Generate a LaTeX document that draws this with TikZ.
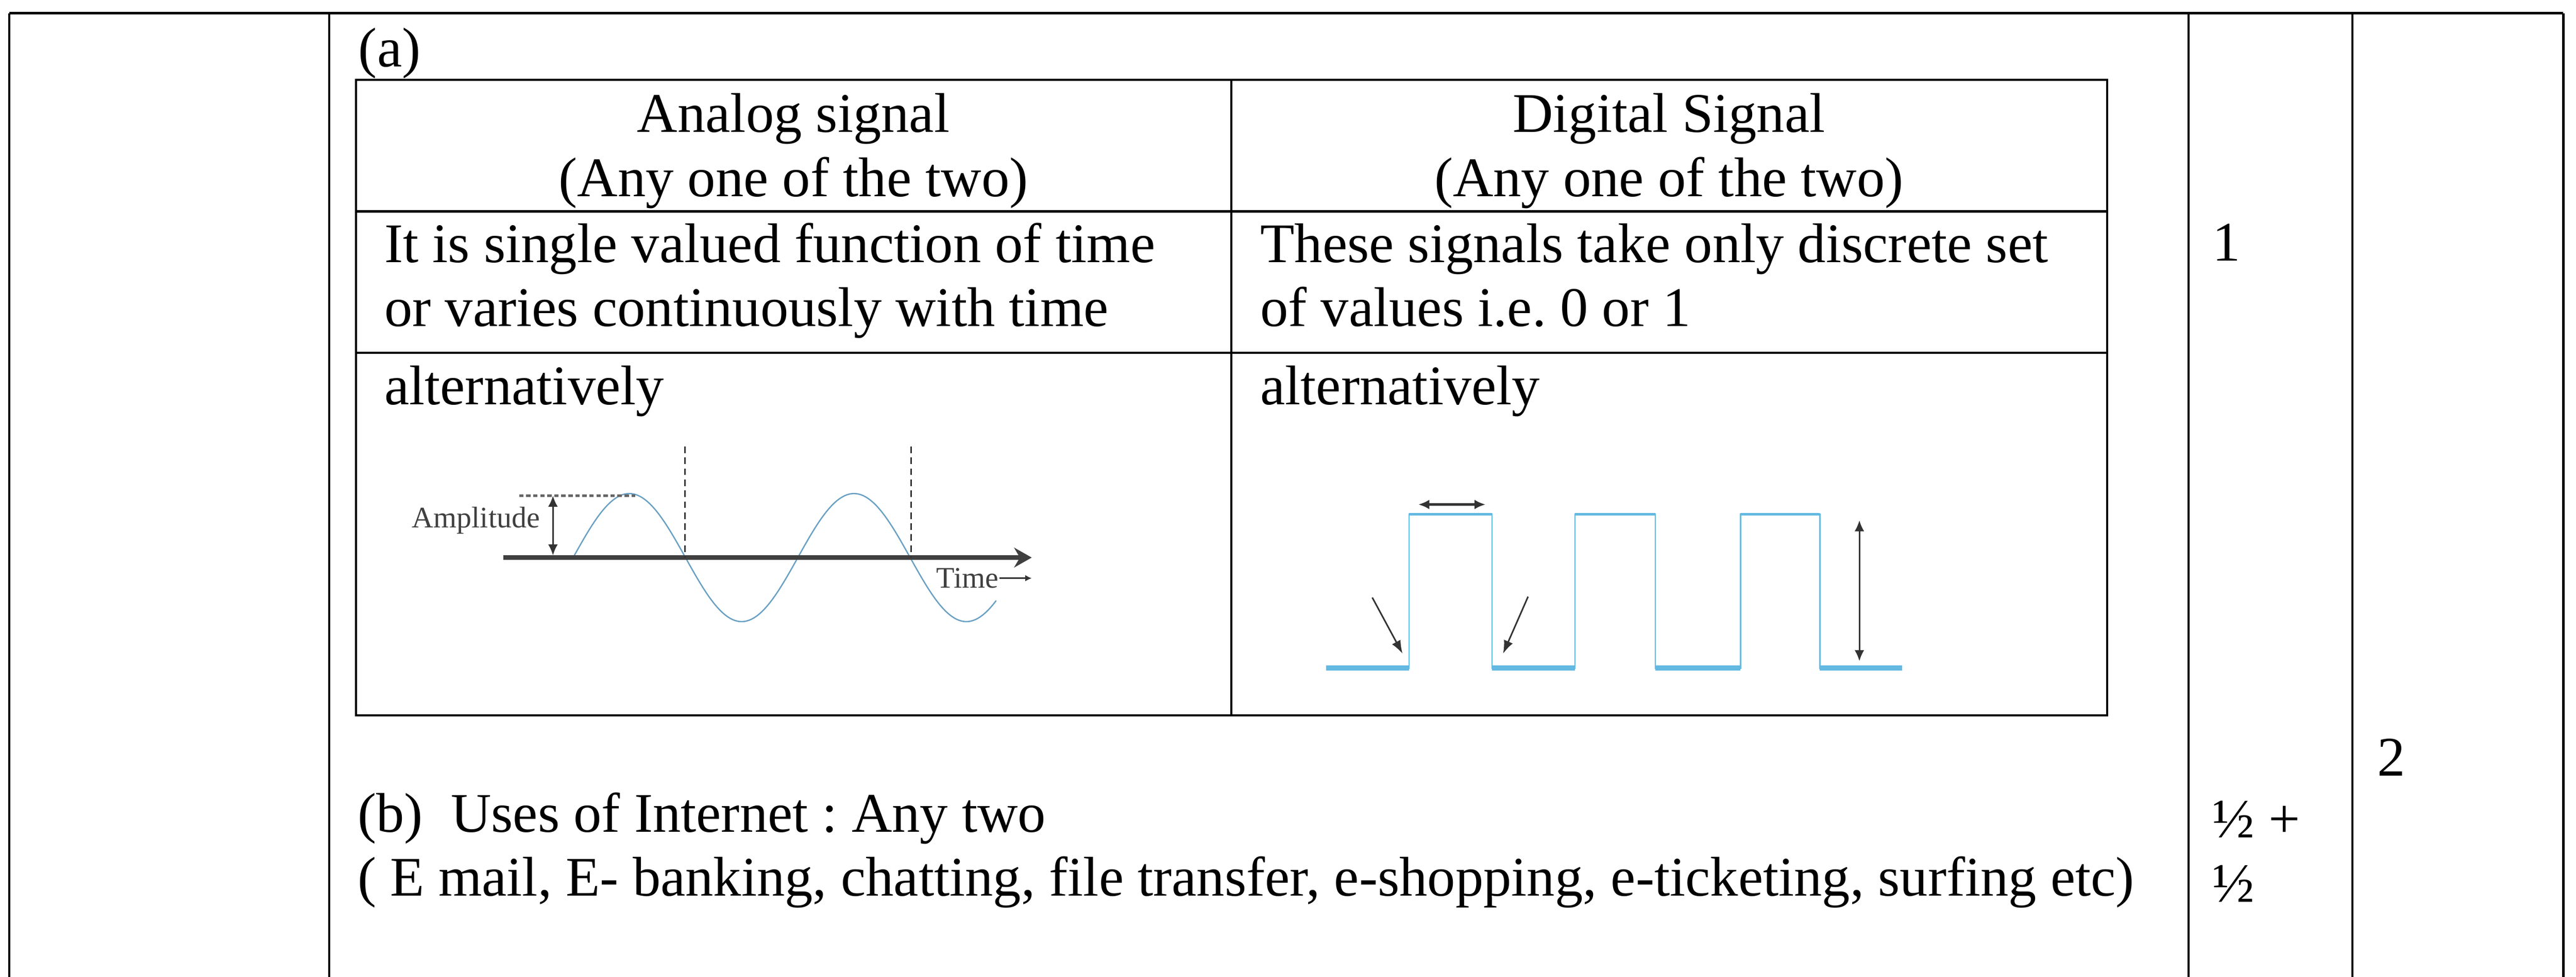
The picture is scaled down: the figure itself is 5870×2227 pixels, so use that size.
\documentclass[tikz,border=0pt]{standalone}
\usepackage{fontspec}
\setmainfont{Liberation Serif}
\usetikzlibrary{arrows.meta}
\frenchspacing

\definecolor{sineblue}{RGB}{105,160,195}
\definecolor{sqblue}{RGB}{100,185,225}

\tikzset{
  txt/.style={anchor=base west, inner sep=0pt, font=\fontsize{12.75}{14.6}\selectfont},
  head/.style={txt, anchor=base},
  small/.style={inner sep=0pt, font=\fontsize{6.8}{7}\selectfont, text=black!75},
  rule/.style={line width=0.5pt},
  sinewave/.style={line width=0.3pt, color=sineblue},
  sqwave/.style={line width=0.3pt, color=sqblue},
  pointer/.style={line width=0.35pt, color=black!80, -{Latex[length=3pt,width=2.2pt]}},
  twoway/.style={line width=0.35pt, color=black!80, {Latex[length=2.5pt,width=2.2pt]}-{Latex[length=2.5pt,width=2.2pt]}},
}

\begin{document}
\begin{tikzpicture}[x=0.1pt, y=-0.1pt]
    \useasboundingbox (0,0) rectangle (5870,2227);

    % outer frame
    \begin{scope}[rule]
    \draw [line width=0.6pt] (21,30) -- (5841,30);
    \foreach \xx in {21,750,4987,5360,5841}
        \draw (\xx,30) -- (\xx,2227);
    \end{scope}

    % inner table
    \begin{scope}[rule]
    \draw (811,182) rectangle (4802,1631);
    \draw (2806,182) -- (2806,1631);
    \draw (811,482) -- (4802,482);
    \draw (811,804) -- (4802,804);
    \end{scope}

    \node [txt] (parta) at (815,152) {(a)};
    \node [head] (anahead) at (1808,301) {Analog signal};
    \node [head] (anaany) at (1808,448) {(Any one of the two)};
    \node [head] (dighead) at (3803,301) {Digital Signal};
    \node [head] (digany) at (3803,448) {(Any one of the two)};

    \node [txt] (anadefa) at (874,598) {It is single valued function of time};
    \node [txt] (anadefb) at (874,744) {or varies continuously with time};
    \node [txt] (digdefa) at (2870,598) {These signals take only discrete set};
    \node [txt] (digdefb) at (2870,744) {of values i.e. 0 or 1};
    \node [txt] (anaalt) at (874,922) {alternatively};
    \node [txt] (digalt) at (2870,922) {alternatively};

    \node [txt] (partb) at (813,1896) {(b)~ Uses of Internet : Any two};
    \node [txt] (uses) at (813,2042) {( E mail, E- banking, chatting, file transfer, e-shopping, e-ticketing, surfing etc)};

    \node [txt] (markone) at (5040,595) {1};
    \node [txt] (markhalfa) at (5040,1910) {½ +};
    \node [txt] (markhalfb) at (5040,2056) {½};
    \node [txt] (marktwo) at (5415,1769) {2};

    % analog signal sketch
    \draw [sinewave] plot [domain=0:964, samples=160] ({\x+1306}, {1271-146*sin(0.703125*\x)});
    \coordinate (axisL) at (1147,1271);
    \coordinate (axisR) at (2351,1271);
    \draw [line width=1pt, black!75, -{Stealth[length=4pt,width=4.5pt]}] (axisL) -- (axisR);
    \foreach \xx in {1561,2076}
        \draw [black!80, line width=0.3pt, dash pattern=on 1.5pt off 1pt] (\xx,1018) -- (\xx,1271);
    \draw [black!60, line width=0.6pt, dash pattern=on 1pt off 0.6pt] (1183,1130) -- (1448,1130);
    \coordinate (ampT) at (1260,1130);
    \coordinate (ampB) at (1260,1266);
    \draw [twoway] (ampT) -- (ampB);
    \node [small, anchor=east] (amp) at (1232,1186) {Amplitude};
    \node [small, anchor=west] (time) at (2132,1318) {Time};
    \coordinate (timeR) at (2351,1318);
    \draw [pointer, -{Latex[length=1.5pt,width=1.5pt]}] (time.east) -- (timeR);

    % digital signal sketch
    \draw [sqwave] (3022,1523) -| (3211,1172) -| (3400,1523) -| (3589,1172) -| (3772,1523) -| (3966,1172) -| (4147,1523) -- (4334,1523);
    \foreach \a/\b in {3022/3211,3400/3589,3772/3966,4147/4334}
        \draw [sqwave, line width=1.2pt] (\a,1523) -- (\b,1523);
    \foreach \a/\b in {3211/3400,3589/3772,3966/4147}
        \draw [sqwave, line width=0.6pt] (\a,1172) -- (\b,1172);

    \coordinate (widthL) at (3232,1150);
    \coordinate (widthR) at (3385,1150);
    \draw [twoway, line width=0.6pt] (widthL) -- (widthR);
    \coordinate (riseS) at (3127,1362);
    \coordinate (riseE) at (3196,1490);
    \draw [pointer] (riseS) -- (riseE);
    \coordinate (fallS) at (3482,1360);
    \coordinate (fallE) at (3425,1490);
    \draw [pointer] (fallS) -- (fallE);
    \coordinate (highT) at (4237,1186);
    \coordinate (highB) at (4237,1507);
    \draw [twoway] (highT) -- (highB);
\end{tikzpicture}
\end{document}
